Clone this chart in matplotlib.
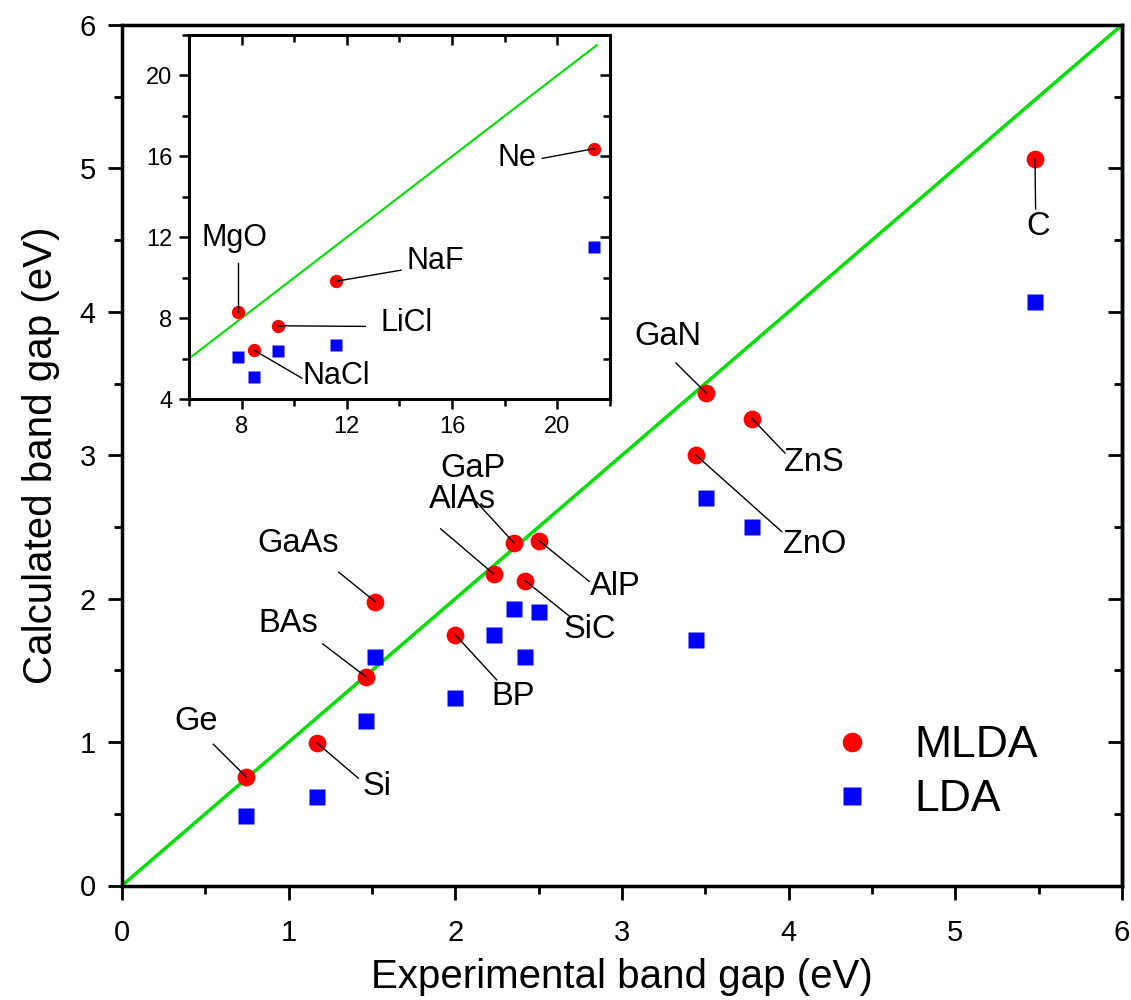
import matplotlib
matplotlib.use("Agg")
import matplotlib.pyplot as plt

# ---------------- data ----------------
materials = ["Ge", "Si", "BAs", "GaAs", "BP", "AlAs", "GaP", "AlP", "SiC", "GaN", "ZnO", "ZnS", "C"]
exp_gap = [0.745, 1.17, 1.464, 1.52, 2.0, 2.23, 2.352, 2.503, 2.418, 3.504, 3.442, 3.78, 5.478]
mlda_gap = [0.757, 0.994, 1.455, 1.978, 1.748, 2.172, 2.389, 2.404, 2.126, 3.435, 3.003, 3.256, 5.063]
lda_gap = [0.485, 0.62, 1.148, 1.59, 1.305, 1.748, 1.93, 1.91, 1.59, 2.70, 1.712, 2.502, 4.07]

inset_materials = ["MgO", "NaCl", "LiCl", "NaF", "Ne"]
inset_exp = [7.87, 8.48, 9.39, 11.58, 21.4]
inset_mlda = [8.28, 6.41, 7.62, 9.82, 16.38]
inset_lda = [6.08, 5.09, 6.36, 6.67, 11.5]

# label placement (text position, leader line start) in data coords
main_label_pos = {
    "Ge": ((0.444, 1.143), (0.548, 0.985)),
    "Si": ((1.528, 0.689), (1.418, 0.748)),
    "BAs": ((0.998, 1.829), (1.204, 1.685)),
    "GaAs": ((1.056, 2.383), (1.300, 2.185)),
    "BP": ((2.348, 1.317), (2.248, 1.434)),
    "AlAs": ((2.04, 2.69), (1.912, 2.487)),
    "GaP": ((2.108, 2.911), (2.124, 2.678)),
    "AlP": ((2.958, 2.085), (2.804, 2.12)),
    "SiC": ((2.808, 1.783), (2.688, 1.875)),
    "GaN": ((3.278, 3.829), (3.324, 3.643)),
    "ZnS": ((4.154, 2.946), (3.978, 3.015)),
    "ZnO": ((4.158, 2.376), (3.958, 2.468)),
    "C": ((5.498, 4.596), (5.482, 4.718)),
}
inset_label_pos = {
    "MgO": ((7.745, 11.975), (7.87, 10.73)),
    "NaCl": ((11.59, 5.14), (10.29, 5.03)),
    "LiCl": ((14.26, 7.76), (12.70, 7.59)),
    "NaF": ((15.36, 10.81), (14.06, 10.37)),
    "Ne": ((18.45, 15.90), (19.43, 15.90)),
}

regular = ["Liberation Sans", "DejaVu Sans"]
plt.rcParams["font.family"] = regular

RED = "#ff0000"
BLUE = "#0000ff"
GREEN = "#00e000"

fig = plt.figure(figsize=(11.31, 10), dpi=100)
ax = fig.add_axes([0.1079, 0.1145, 0.8841, 0.8605])

ax.plot([0, 6], [0, 6], color=GREEN, lw=2.5, zorder=2)
ax.plot(exp_gap, mlda_gap, "o", color=RED, ms=12.8, mec="none", zorder=3, label="MLDA")
ax.plot(exp_gap, lda_gap, "s", color=BLUE, ms=11.5, mec="none", zorder=3, label="LDA")

for name, x, y in zip(materials, exp_gap, mlda_gap):
    (tx, ty), (lx, ly) = main_label_pos[name]
    ax.plot([lx, x], [ly, y], color="black", lw=1.0, zorder=4)
    ax.text(tx, ty, name, fontsize=23.5, ha="center", va="center", zorder=5)

ax.set_xlim(0, 6)
ax.set_ylim(0, 6)
ax.set_xticks(range(7))
ax.set_yticks(range(7))
ax.set_xticks([0.5 + i for i in range(6)], minor=True)
ax.set_yticks([0.5 + i for i in range(6)], minor=True)
for sp in ax.spines.values():
    sp.set_linewidth(2.5)
ax.tick_params(which="major", length=10, width=2, labelsize=21, pad=9)
ax.tick_params(axis="x", which="major", pad=14)
ax.tick_params(which="minor", length=6, width=2)
ax.tick_params(which="both", top=False, right=False)
ax.set_xlabel("Experimental band gap (eV)", fontsize=29, labelpad=8)
ax.set_ylabel("Calculated band gap (eV)", fontsize=29, labelpad=14)

# right-side ticks pointing inward
sec = ax.secondary_yaxis("right")
sec.set_yticks(range(7))
sec.set_yticks([0.5 + i for i in range(6)], minor=True)
sec.tick_params(which="major", direction="in", length=10, width=2, labelright=False)
sec.tick_params(which="minor", direction="in", length=6, width=2)
sec.spines["right"].set_linewidth(2.5)

leg = ax.legend(loc="center left", bbox_to_anchor=(0.646, 0.131), frameon=False,
                fontsize=32, handletextpad=0.4, labelspacing=0.3, markerscale=1.1)

# ---------------- inset ----------------
ins = fig.add_axes([0.1671, 0.601, 0.3722, 0.364])
ins.plot([6, 21.5], [6, 21.5], color=GREEN, lw=1.5, zorder=2)
ins.plot(inset_exp, inset_mlda, "o", color=RED, ms=9.6, mec="none", zorder=3)
ins.plot(inset_exp, inset_lda, "s", color=BLUE, ms=8.8, mec="none", zorder=3)
for name, x, y in zip(inset_materials, inset_exp, inset_mlda):
    (tx, ty), (lx, ly) = inset_label_pos[name]
    ins.plot([lx, x], [ly, y], color="black", lw=1.0, zorder=4)
    ins.text(tx, ty, name, fontsize=22, ha="center", va="center", zorder=5)
ins.set_xlim(6, 22)
ins.set_ylim(4, 22)
ins.set_xticks([8, 12, 16, 20])
ins.set_yticks([4, 8, 12, 16, 20])
ins.set_xticks([6, 10, 14, 18, 22], minor=True)
ins.set_yticks([6, 10, 14, 18, 22], minor=True)
for sp in ins.spines.values():
    sp.set_linewidth(2.2)
ins.tick_params(which="major", length=7, width=1.8, labelsize=17, pad=5)
ins.tick_params(which="minor", length=5, width=1.8)
sx = ins.secondary_xaxis("top")
sx.set_xticks([8, 12, 16, 20])
sx.set_xticks([6, 10, 14, 18, 22], minor=True)
sx.tick_params(which="major", direction="in", length=7, width=1.8, labeltop=False)
sx.tick_params(which="minor", direction="in", length=5, width=1.8)
sy = ins.secondary_yaxis("right")
sy.set_yticks([4, 8, 12, 16, 20])
sy.set_yticks([6, 10, 14, 18, 22], minor=True)
sy.tick_params(which="major", direction="in", length=7, width=1.8, labelright=False)
sy.tick_params(which="minor", direction="in", length=5, width=1.8)

fig.savefig("out.png", dpi=100)
